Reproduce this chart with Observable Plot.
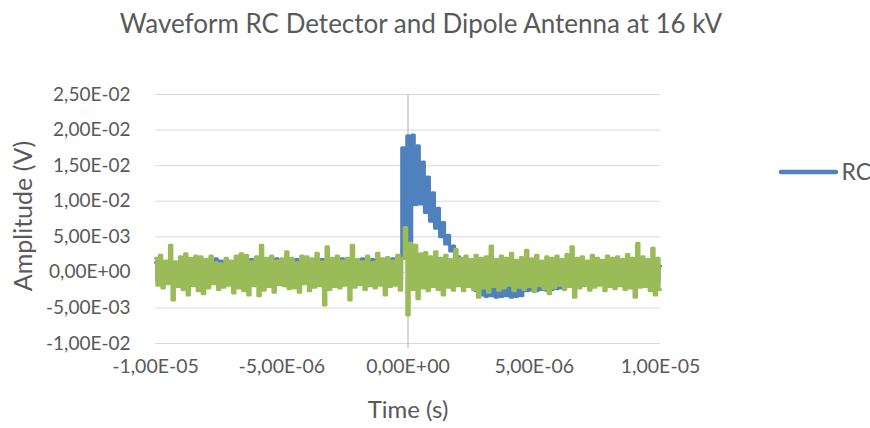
<!DOCTYPE html>
<html>
<head>
<meta charset="utf-8">
<script src="https://cdn.jsdelivr.net/npm/d3@7"></script>
<script src="https://cdn.jsdelivr.net/npm/@observablehq/plot@0.6"></script>
<style>
  html, body { margin: 0; padding: 0; background: #fff; }
  #chart { width: 870px; height: 428px; }
</style>
</head>
<body>
<div id="chart"></div>
<script>
// Sampling grid (microseconds): first sample and step
const tStartUs = -10;
const tStepUs = 0.1;

// RC detector samples (mV), one per grid step
const rcValues = [
  1.4,-1.1, 1.6,-1.3, 1.2,-0.9, 1.5,-1.2, 1.3,-1.0, 1.7,-1.4, 1.4,-1.1, 1.2,-0.9, 1.6,-1.2, 1.5,-1.0,
  1.7,-1.3, 1.5,-1.1, 1.9,-1.2, 1.6,-1.0, 1.4,-1.3, 1.5,-1.1, 1.3,-0.9, 1.6,-1.2, 1.5,-1.0, 1.8,-1.3,
  1.4,-1.1, 1.3,-1.2, 1.5,-1.0, 1.6,-1.3, 1.9,-1.1, 1.7,-1.2, 1.4,-1.0, 1.5,-1.3, 1.8,-1.1, 1.5,-1.2,
  1.6,-1.0, 1.4,-1.1, 1.5,-1.3, 1.8,-1.2, 1.4,-1.0, 1.6,-1.1, 1.7,-1.3, 1.9,-1.0, 1.6,-1.2, 1.4,-1.1,
  1.7,-1.0, 1.9,-1.3, 1.5,-1.1, 1.8,-1.2, 1.5,-1.0, 1.6,-1.1, 1.4,-1.2, 1.9,-1.0, 1.6,-1.1,
  17.5, 2.0, 19.2, 2.5, 19.3, 9.5, 17.8, 9.6, 15.5, 8.4, 13.4, 7.2, 11.2, 6.2, 9.0, 5.0, 7.0, 4.0, 5.2, 3.0,
  3.7, 1.6, 2.2, 0.2, 1.2, -0.8, 0.2, -1.8, -0.6, -2.6, -1.2, -3.2, -1.6, -3.4, -1.8, -3.3, -1.7, -3.5, -1.8, -3.4,
  -1.9, -3.3, -1.6, -3.5, -1.7, -3.4, -1.8, -3.3, -1.4, -2.6, -1.2, -2.5, -1.3, -2.6, -1.1, -2.4, -1.2, -2.5, -1.0, -2.4,
  -1.1, -2.3, -0.9, -2.2, -0.8, -2.0, -0.5,
  -1.8, 0.2, -1.6, 0.4, -1.7, 0.5, -1.5, 0.6, -1.6, 0.5, -1.4, 0.7, -1.5, 0.6, -1.3, 0.8, -1.4, 0.7, -1.5, 0.6,
  -1.3, 0.8, -1.4, 0.7, -1.2, 0.9, -1.3, 0.8, -1.4, 0.7, -1.2, 0.9, -1.3, 0.8, -1.2, 0.9
];

// Dipole antenna samples (mV), one per grid step
const dipoleValues = [
  2.0,-1.8, 2.4,-2.2, 1.6,-1.6, 3.8,-3.9, 1.5,-2.0, 2.2,-2.4, 2.6,-3.2, 2.0,-1.9, 2.3,-2.6, 2.2,-3.0,
  1.8,-2.2, 2.3,-1.6, 1.4,-2.4, 1.2,-2.1, 2.0,-1.8, 1.6,-2.9, 2.3,-2.2, 2.6,-2.6, 2.4,-3.2, 1.5,-1.9,
  2.2,-3.3, 3.8,-2.5, 2.0,-2.0, 2.3,-2.8, 1.6,-1.7, 1.9,-1.9, 2.9,-2.3, 2.0,-2.2, 1.4,-2.8, 2.3,-1.6,
  2.2,-2.6, 1.9,-2.1, 2.7,-1.9, 1.5,-4.6, 3.6,-2.4, 2.0,-2.0, 2.3,-2.2, 1.6,-1.8, 2.0,-3.9, 3.8,-2.1,
  1.8,-1.7, 1.5,-2.4, 2.3,-1.9, 1.4,-2.2, 2.7,-1.8, 1.9,-3.2, 2.1,-2.0, 1.6,-1.8, 2.4,-2.5, 2.0, 6.3,
  -6.0,
  4.1,-2.4, 3.8,-3.7, 2.6,-2.2, 2.8,-2.6, 2.2,-2.0, 2.9,-2.4, 2.0,-3.2, 2.4,-2.1, 1.8,-2.5, 3.2,-1.9,
  2.0,-2.6, 2.3,-2.0, 1.8,-2.4, 2.4,-3.5, 2.0,-2.2, 2.2,-2.8, 3.7,-2.0, 1.8,-2.5, 2.3,-2.2, 2.0,-1.8,
  2.7,-2.6, 1.7,-2.1, 2.1,-2.4, 3.1,-2.0, 1.9,-2.7, 2.4,-1.9, 1.6,-2.3, 2.2,-3.0, 2.0,-2.2, 2.3,-1.8,
  1.8,-2.4, 2.5,-2.0, 3.6,-3.5, 2.0,-2.2, 2.2,-1.9, 1.6,-2.5, 2.4,-2.1, 2.0,-1.8, 1.7,-2.6, 2.3,-2.0,
  2.0,-2.3, 2.2,-1.9, 1.8,-2.4, 2.5,-2.2, 2.0,-3.5, 4.1,-2.1, 2.2,-2.0, 1.8,-2.6, 3.4,-3.2, 2.0,-2.4
];

// Axis ticks and labels
const yTicks = [-0.01, -0.005, 0, 0.005, 0.01, 0.015, 0.02, 0.025];
const xTicks = [-1e-5, -5e-6, 0, 5e-6, 1e-5];
const titleText = "Waveform RC Detector and Dipole Antenna at 16 kV";
const xLabel = "Time (s)";
const yLabel = "Amplitude (V)";
const legendLabel = "RC";

function sci(v) {
  if (Math.abs(v) < 1e-15) v = 0;
  let [m, e] = v.toExponential(2).split("e");
  const sign = e[0] === "-" ? "-" : "+";
  e = e.replace(/[+-]/, "").padStart(2, "0");
  return m.replace(".", ",") + "E" + sign + e;
}

const toRows = (vals) => vals.map((v, i) => ({t: (tStartUs + i * tStepUs) * 1e-6, v: v * 1e-3}));
const rc = toRows(rcValues);
const dipole = toRows(dipoleValues);

const BLUE = "#4f81bd", GREEN = "#9bbb59", TEXT = "#595959";

const plot = Plot.plot({
  width: 870,
  height: 428,
  marginLeft: 155,
  marginRight: 210,
  marginTop: 94,
  marginBottom: 85,
  style: {fontFamily: "Lato, sans-serif", color: TEXT, background: "#fff"},
  x: {domain: [-1e-5, 1e-5]},
  y: {domain: [-0.01, 0.025]},
  marks: [
    Plot.gridY(yTicks, {stroke: "#d9d9d9", strokeOpacity: 1, strokeWidth: 1}),
    Plot.ruleX([0], {stroke: "#b0b0b0", strokeWidth: 1, insetBottom: -5}),
    Plot.line(rc, {x: "t", y: "v", curve: "step", stroke: BLUE, strokeWidth: 3, strokeLinejoin: "round", strokeLinecap: "round"}),
    Plot.line(dipole, {x: "t", y: "v", curve: "step", stroke: GREEN, strokeWidth: 3, strokeLinejoin: "round", strokeLinecap: "round"}),
    Plot.axisY(yTicks, {tickSize: 0, tickPadding: 25, tickFormat: sci, fontSize: 19, label: null, fill: TEXT}),
    Plot.axisX(xTicks, {tickSize: 0, tickPadding: 16, tickFormat: sci, fontSize: 19.5, label: null, fill: TEXT}),
    Plot.text([titleText], {frameAnchor: "top", dx: 13, dy: -70, fontSize: 26, fill: TEXT, lineAnchor: "middle"}),
    Plot.text([xLabel], {frameAnchor: "bottom", dy: 67, fontSize: 24, fill: TEXT, lineAnchor: "middle"}),
    Plot.text([yLabel], {frameAnchor: "left", textAnchor: "middle", dx: -132, dy: -3, rotate: -90, fontSize: 25, fill: TEXT, lineAnchor: "middle"}),
    Plot.text([legendLabel], {frameAnchor: "top-right", dx: 181, dy: 78, fontSize: 23, fill: TEXT, textAnchor: "start", lineAnchor: "middle"})
  ]
});

// legend swatch line
d3.select(plot).append("line")
  .attr("x1", 781).attr("x2", 836).attr("y1", 172).attr("y2", 172)
  .attr("stroke", BLUE).attr("stroke-width", 4.5).attr("stroke-linecap", "round");

document.getElementById("chart").appendChild(plot);
</script>
</body>
</html>
